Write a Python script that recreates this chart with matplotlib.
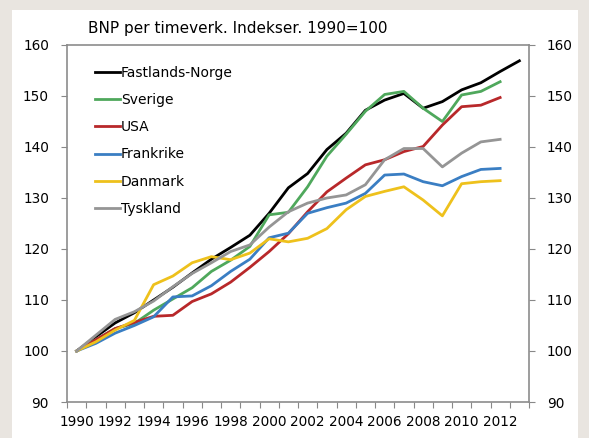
import matplotlib
matplotlib.use('Agg')
import matplotlib.pyplot as plt
from matplotlib.patches import Rectangle

# Data (index, 1990=100)
years = list(range(1990, 2014))
norge = [100, 102.8, 105.5, 107.5, 110, 112.5, 115.3, 118, 120.3, 122.7, 127, 132,
         134.8, 139.5, 142.7, 147.2, 149.2, 150.5, 147.6, 148.9, 151.2, 152.6, 154.8, 156.9]
sverige = [100, 102.2, 104.4, 105.4, 108, 110.2, 112.4, 115.6, 117.8, 120.5, 126.7, 127.2,
           132.2, 138.2, 142.5, 147, 150.3, 150.9, 147.6, 145, 150.2, 150.9, 152.8]
usa = [100, 102.2, 104.4, 105.6, 106.8, 107, 109.7, 111.2, 113.5, 116.4, 119.5, 123,
       127.3, 131.2, 133.9, 136.5, 137.5, 139.1, 140.1, 144.3, 147.9, 148.2, 149.7]
frankrike = [100, 101.5, 103.5, 105, 106.7, 110.6, 110.8, 112.8, 115.6, 118, 122.2, 123.1,
             127, 128.1, 129, 130.9, 134.5, 134.7, 133.2, 132.4, 134.2, 135.6, 135.8]
danmark = [100, 101.8, 104.1, 106, 113, 114.7, 117.3, 118.5, 117.9, 119.2, 122, 121.4,
           122.1, 124, 127.7, 130.3, 131.3, 132.2, 129.6, 126.5, 132.8, 133.2, 133.4]
tyskland = [100, 103.1, 106.2, 107.7, 109.8, 112.6, 115.2, 117.3, 119.5, 120.8, 124.3, 127.3,
            129, 130, 130.6, 132.6, 137.5, 139.7, 139.7, 136.1, 138.8, 141, 141.5]

series = [
    ('Fastlands-Norge', norge, '#000000'),
    ('Sverige', sverige, '#4fa85c'),
    ('USA', usa, '#b8282a'),
    ('Frankrike', frankrike, '#3a7ec3'),
    ('Danmark', danmark, '#eec11c'),
    ('Tyskland', tyskland, '#959595'),
]

fig = plt.figure(figsize=(5.89, 4.38), dpi=100, facecolor='#e9e5e0')
# white panel behind the chart
fig.patches.append(Rectangle((12 / 589, 0), (578 - 12) / 589, 1 - 10 / 438,
                             transform=fig.transFigure, facecolor='white',
                             edgecolor='none', zorder=-10))

ax = fig.add_axes([67 / 589, 1 - 402 / 438, (529 - 67) / 589, (402 - 45) / 438])
ax.set_facecolor('white')

for name, vals, col in series:
    x = [years.index(y) for y in years[:len(vals)]]
    ax.plot(x, vals, color=col, lw=2.0, label=name, solid_joinstyle='round')

ax.set_xlim(-0.5, len(years) - 0.5)
ax.set_ylim(90, 160)
ax.set_yticks(range(90, 161, 10))

# Excel-style category axis: ticks between categories, labels every other year
ax.set_xticks([i - 0.5 for i in range(len(years) + 1)])
ax.set_xticklabels([])
ax.set_xticks(range(0, len(years), 2), minor=True)
ax.set_xticklabels([str(y) for y in years[::2]], minor=True, fontsize=9.8)
ax.tick_params(axis='x', which='minor', length=0, pad=9)
ax.tick_params(axis='x', which='major', length=4, color='#888888', direction='out')
ax.tick_params(axis='y', length=4, color='#888888', direction='out', labelsize=9.8,
               left=True, right=True, labelleft=True, labelright=True, pad=9)

for sp in ax.spines.values():
    sp.set_color('#8c8c8c')
    sp.set_linewidth(1.2)

ax.set_title('BNP per timeverk. Indekser. 1990=100', fontsize=11, pad=9, x=0.37)

ax.legend(loc='upper left', bbox_to_anchor=(0.048, 0.957), frameon=False,
          fontsize=10, handlelength=1.8, handletextpad=0.1, labelspacing=0.95,
          borderaxespad=0)

plt.savefig('out.png', dpi=100, facecolor=fig.get_facecolor())
